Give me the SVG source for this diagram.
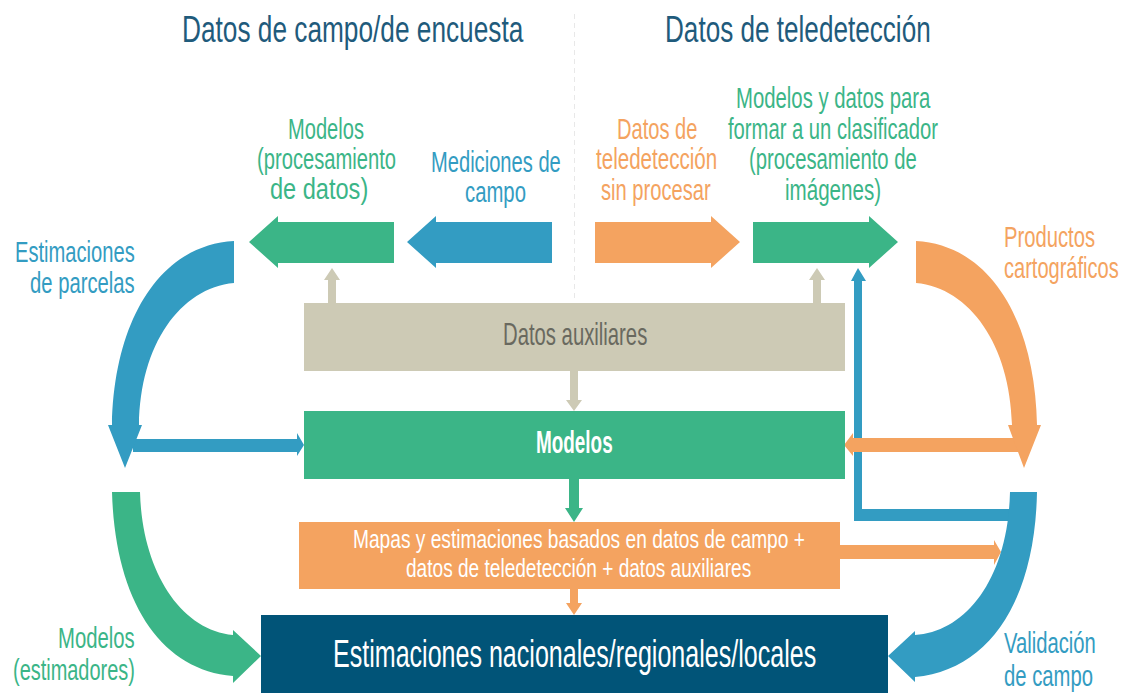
<svg xmlns="http://www.w3.org/2000/svg" width="1122" height="693" viewBox="0 0 1122 693">
<style>
text{font-family:"Liberation Sans",Arial,sans-serif;font-size:29px}
.h{font-size:37px;fill:#1f5b7c}
.c{font-size:32px}
.m{font-size:26px}
.l{font-size:39px}
.g{fill:#3bb587}.b{fill:#339cc2}.o{fill:#f4a360}.t{fill:#cdcab5}.d{fill:#015478}.w{fill:#fff}
</style>
<rect width="1122" height="693" fill="#fff"/>
<line x1="574.500" y1="14" x2="574.500" y2="300" stroke="#e8e8e8" stroke-dasharray="5 4"/>
<text class="h" transform="translate(182 42) scale(.72 1)" textLength="474" lengthAdjust="spacingAndGlyphs">Datos de campo/de encuesta</text>
<text class="h" transform="translate(665 42) scale(.72 1)" textLength="369" lengthAdjust="spacingAndGlyphs">Datos de teledetección</text>
<g id="connectors">
<path class="t" d="M328 303V280H324L332 268L340 280H336V303Z"/>
<path class="t" d="M813 303V280H809L817 268L825 280H821V303Z"/>
<path class="t" d="M570 371V400H566L574 411L582 400H578V371Z"/>
<path class="g" d="M569 479V508H565L574 522L583 508H579V479Z"/>
<path class="o" d="M570 589V603H566L574 615L582 603H578V589Z"/>
<path class="b" d="M854 521V281H851L858 268L866 281H862V509H1012V521Z"/>
<path class="b" d="M133 439H297V433L304 445L297 456V452H133Z"/>
<path class="o" d="M1020 438H853V433L844 445L853 456V452H1020Z"/>
<path class="o" d="M840 545H994V540L1001 552L994 565V559H840Z"/>
</g>
<g id="arrow-modelos-datos"><path class="g" d="M394 222V263H278V268L249 242L278 216V222Z"/>
<text class="g" transform="translate(288 139) scale(.717 1)" textLength="106" lengthAdjust="spacingAndGlyphs">Modelos</text>
<text class="g" transform="translate(257 169) scale(.717 1)" textLength="194" lengthAdjust="spacingAndGlyphs">(procesamiento</text>
<text class="g" transform="translate(270 199) scale(.717 1)" textLength="137" lengthAdjust="spacingAndGlyphs">de datos)</text></g>
<g id="arrow-mediciones"><path class="b" d="M552 222V263H436V268L407 242L436 216V222Z"/>
<text class="b" transform="translate(431 172) scale(.717 1)" textLength="181" lengthAdjust="spacingAndGlyphs">Mediciones de</text>
<text class="b" transform="translate(465 202) scale(.717 1)" textLength="85" lengthAdjust="spacingAndGlyphs">campo</text></g>
<g id="arrow-teledeteccion"><path class="o" d="M595 222V263H711V268L740 242L711 216V222Z"/>
<text class="o" transform="translate(617 139) scale(.717 1)" textLength="112" lengthAdjust="spacingAndGlyphs">Datos de</text>
<text class="o" transform="translate(596 169) scale(.717 1)" textLength="169" lengthAdjust="spacingAndGlyphs">teledetección</text>
<text class="o" transform="translate(601 200) scale(.717 1)" textLength="153" lengthAdjust="spacingAndGlyphs">sin procesar</text></g>
<g id="arrow-clasificador"><path class="g" d="M753 222V263H869V268L898 242L869 216V222Z"/>
<text class="g" transform="translate(736 108) scale(.717 1)" textLength="271" lengthAdjust="spacingAndGlyphs">Modelos y datos para</text>
<text class="g" transform="translate(728 139) scale(.717 1)" textLength="293" lengthAdjust="spacingAndGlyphs">formar a un clasificador</text>
<text class="g" transform="translate(749 169) scale(.717 1)" textLength="234" lengthAdjust="spacingAndGlyphs">(procesamiento de</text>
<text class="g" transform="translate(785 200) scale(.717 1)" textLength="134" lengthAdjust="spacingAndGlyphs">imágenes)</text></g>
<g id="arc-parcelas"><path class="b" d="M234 241V283C180 288 140 345 139 425H142L125 468L108 425H112C114 320 160 245 234 241Z"/>
<text class="b" transform="translate(15 262) scale(.717 1)" textLength="167" lengthAdjust="spacingAndGlyphs">Estimaciones</text>
<text class="b" transform="translate(30 293) scale(.717 1)" textLength="146" lengthAdjust="spacingAndGlyphs">de parcelas</text></g>
<g id="arc-productos"><path class="o" d="M916 241V283C970 288 1010 345 1012 425H1008L1024 468L1041 425H1037C1035 320 990 245 916 241Z"/>
<text class="o" transform="translate(1004 247) scale(.717 1)" textLength="127" lengthAdjust="spacingAndGlyphs">Productos</text>
<text class="o" transform="translate(1004 278) scale(.717 1)" textLength="160" lengthAdjust="spacingAndGlyphs">cartográficos</text></g>
<g id="arc-validacion"><path class="b" d="M1010 492H1037C1035 600 990 670 915 677V682L888 656L915 631V635C965 632 1008 580 1010 492Z"/>
<text class="b" transform="translate(1004 653) scale(.717 1)" textLength="128" lengthAdjust="spacingAndGlyphs">Validación</text>
<text class="b" transform="translate(1004 686) scale(.717 1)" textLength="124" lengthAdjust="spacingAndGlyphs">de campo</text></g>
<g id="arc-estimadores"><path class="g" d="M112 492H140C142 570 180 630 233 635V630L261 656L233 683V676C160 670 115 600 112 492Z"/>
<text class="g" transform="translate(58 648) scale(.717 1)" textLength="107" lengthAdjust="spacingAndGlyphs">Modelos</text>
<text class="g" transform="translate(13 680) scale(.717 1)" textLength="170" lengthAdjust="spacingAndGlyphs">(estimadores)</text></g>
<g id="datos-auxiliares"><rect class="t" x="304" y="303" width="541" height="68"/>
<text class="c" transform="translate(503 345) scale(.65 1)" fill="#69695f" textLength="222" lengthAdjust="spacingAndGlyphs">Datos auxiliares</text></g>
<g id="modelos"><rect class="g" x="304" y="411" width="541" height="68"/>
<text class="w c" transform="translate(536 453) scale(.65 1)" font-weight="bold" textLength="118" lengthAdjust="spacingAndGlyphs">Modelos</text></g>
<g id="mapas"><rect class="o" x="299" y="522" width="541" height="67"/>
<text class="w m" transform="translate(353 548) scale(.736 1)" textLength="614" lengthAdjust="spacingAndGlyphs">Mapas y estimaciones basados en datos de campo +</text>
<text class="w m" transform="translate(406 577) scale(.736 1)" textLength="469" lengthAdjust="spacingAndGlyphs">datos de teledetección + datos auxiliares</text></g>
<g id="estimaciones"><rect class="d" x="261" y="615" width="627" height="78"/>
<text class="w l" transform="translate(333 667) scale(.64 1)" textLength="755" lengthAdjust="spacingAndGlyphs">Estimaciones nacionales/regionales/locales</text></g>
</svg>
